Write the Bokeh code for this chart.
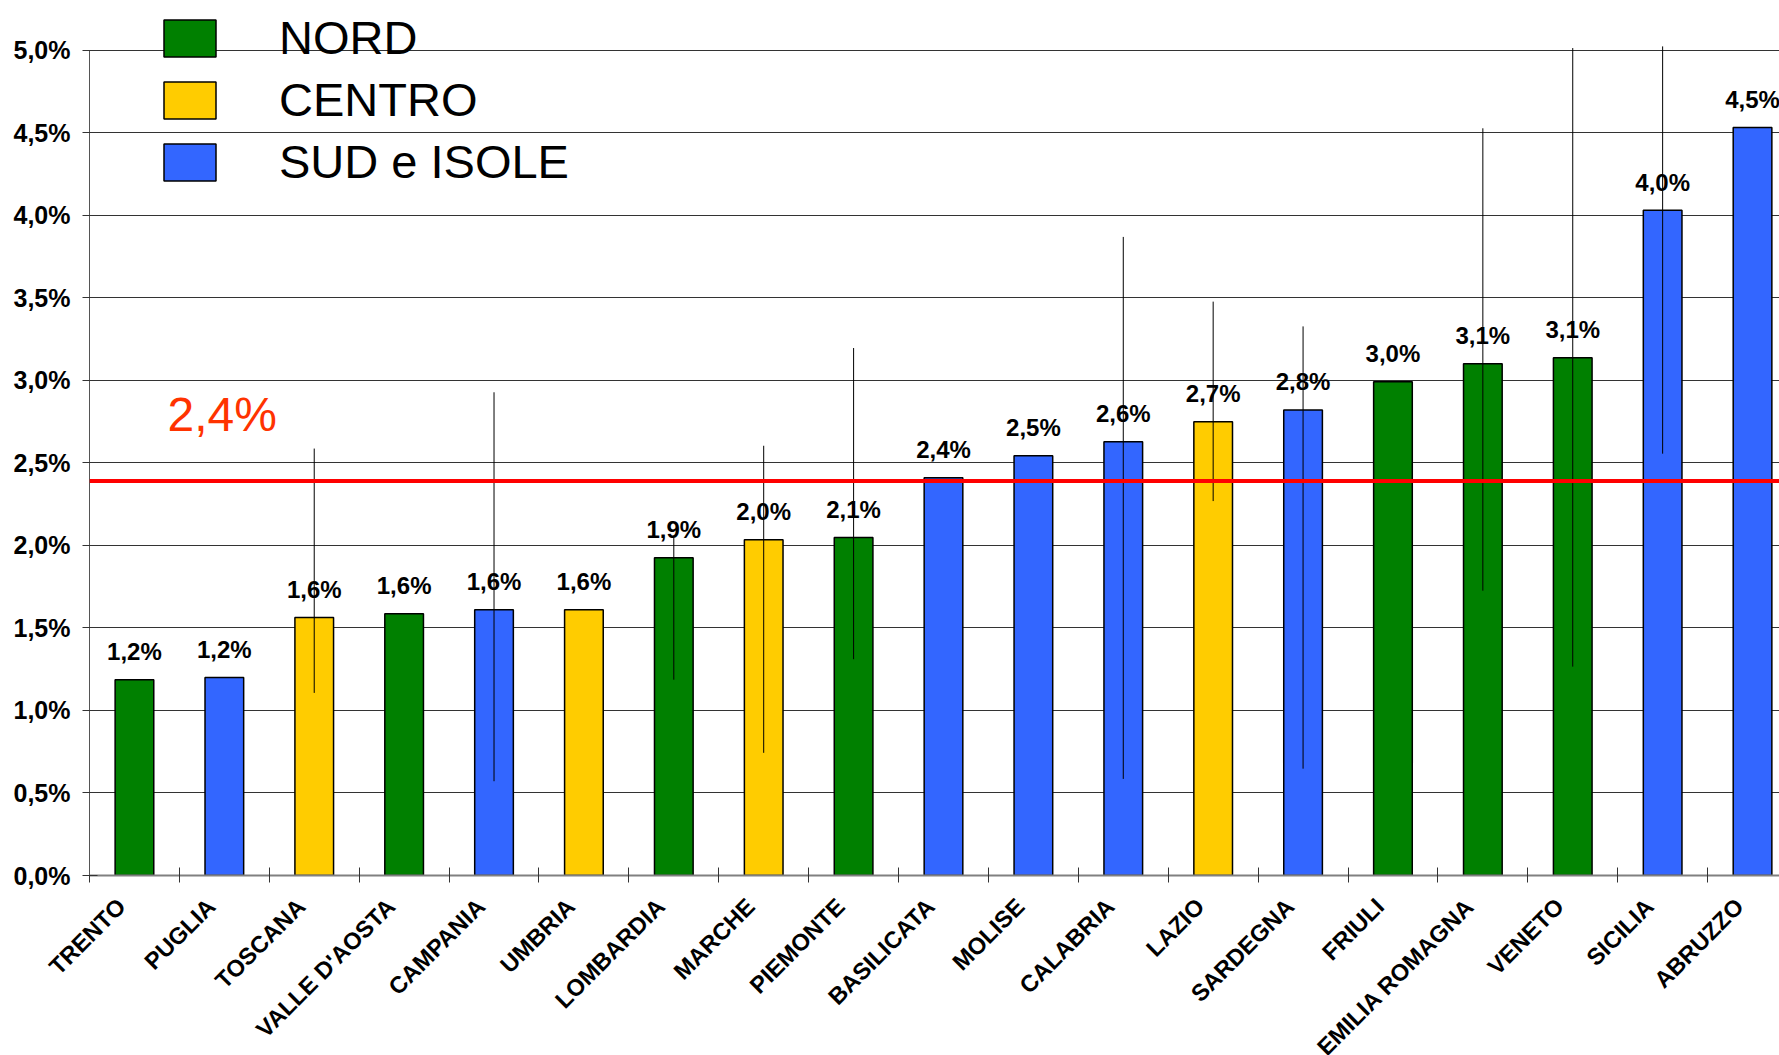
import math
from bokeh.plotting import figure
from bokeh.layouts import column
from bokeh.models import (Range1d, FixedTicker, Span, Label, Legend,
                          LegendItem, ColumnDataSource)
from bokeh.core.properties import value
from bokeh.embed import file_html
from bokeh.resources import INLINE

NaN = float("nan")

# ---------------- data ----------------
regions = ["TRENTO", "PUGLIA", "TOSCANA", "VALLE D'AOSTA", "CAMPANIA", "UMBRIA",
           "LOMBARDIA", "MARCHE", "PIEMONTE", "BASILICATA", "MOLISE", "CALABRIA",
           "LAZIO", "SARDEGNA", "FRIULI", "EMILIA ROMAGNA", "VENETO", "SICILIA",
           "ABRUZZO"]
areas = ["NORD", "SUD e ISOLE", "CENTRO", "NORD", "SUD e ISOLE", "CENTRO",
         "NORD", "CENTRO", "NORD", "SUD e ISOLE", "SUD e ISOLE", "SUD e ISOLE",
         "CENTRO", "SUD e ISOLE", "NORD", "NORD", "NORD", "SUD e ISOLE",
         "SUD e ISOLE"]
values = [1.186, 1.20, 1.562, 1.586, 1.609, 1.609, 1.925, 2.034, 2.047, 2.409,
          2.542, 2.628, 2.748, 2.82, 2.99, 3.10, 3.136, 4.03, 4.53]
value_labels = ["1,2%", "1,2%", "1,6%", "1,6%", "1,6%", "1,6%", "1,9%", "2,0%",
                "2,1%", "2,4%", "2,5%", "2,6%", "2,7%", "2,8%", "3,0%", "3,1%",
                "3,1%", "4,0%", "4,5%"]
err_high = [NaN, NaN, 2.586, NaN, 2.927, NaN, 2.05, 2.603, 3.195, NaN, NaN,
            3.868, 3.476, 3.326, NaN, 4.526, 5.012, 5.022, NaN]
err_low = [NaN, NaN, 1.106, NaN, 0.571, NaN, 1.186, 0.743, 1.31, NaN, NaN,
           0.585, 2.268, 0.647, NaN, 1.725, 1.265, 2.555, NaN]
average = 2.39
average_label = "2,4%"
y_ticks = [0.0, 0.5, 1.0, 1.5, 2.0, 2.5, 3.0, 3.5, 4.0, 4.5, 5.0]
y_tick_labels = ["0,0%", "0,5%", "1,0%", "1,5%", "2,0%", "2,5%", "3,0%", "3,5%",
                 "4,0%", "4,5%", "5,0%"]
area_names = ["NORD", "CENTRO", "SUD e ISOLE"]
area_colors = ["#008000", "#FFCC00", "#3366FF"]

# ---------------- layout ----------------
FONT = "Liberation Sans"
W = 1779
FRAME_LEFT = 89
MAIN_H = 890
LABELS_H = 165
X_START, X_END = -0.5, 18.3
unit_px = (W - FRAME_LEFT) / (X_END - X_START)

idx = list(range(len(regions)))
color_of = dict(zip(area_names, area_colors))
src = ColumnDataSource(dict(
    x=idx, top=values, lab=value_labels, area=areas, name=regions,
    color=[color_of[a] for a in areas],
    hi=err_high, lo=err_low,
))

p = figure(width=W, height=MAIN_H, output_backend="svg", toolbar_location=None,
           x_range=Range1d(X_START, X_END), y_range=Range1d(0, 5.30),
           min_border_left=FRAME_LEFT, min_border_right=0, min_border_top=0,
           min_border_bottom=MAIN_H - 875)
p.frame_align = False
p.outline_line_color = None
p.background_fill_color = "white"
p.border_fill_color = "white"

bars = p.vbar(x="x", top="top", width=0.43, bottom=0, source=src,
              fill_color="color", line_color="black", line_width=1.5)
p.segment(x0="x", y0="lo", x1="x", y1="hi", source=src,
          line_color="black", line_width=1)
p.text(x="x", y="top", text="lab", source=src, text_align="center",
       text_baseline="alphabetic", y_offset=-28, text_font_size="24px",
       text_font_style="bold", text_color="black", text_font=value(FONT))

p.add_layout(Span(location=average, dimension="width", line_color="#FF0000",
                  line_width=4))
p.add_layout(Label(x=0.368, y=average, y_offset=66, text=average_label,
                   text_color="#FF3300", text_font_size="48px", text_font=FONT,
                   text_baseline="alphabetic"))

# y axis
ya = p.yaxis[0]
ya.ticker = FixedTicker(ticks=y_ticks)
ya.major_label_overrides = {t: l for t, l in zip(y_ticks, y_tick_labels)}
ya.major_label_text_font = FONT
ya.major_label_text_font_style = "bold"
ya.major_label_text_font_size = "25px"
ya.major_label_text_color = "black"
ya.major_label_standoff = 12
ya.major_tick_in = 8
ya.major_tick_out = 7
ya.major_tick_line_color = "#333333"
ya.minor_tick_line_color = None
ya.axis_line_color = "#555555"
ya.bounds = (0, 5)

# x axis: only the tick marks at the category boundaries
xa = p.xaxis[0]
xa.ticker = FixedTicker(ticks=[], minor_ticks=[i - 0.5 for i in range(len(regions) + 1)])
xa.major_label_standoff = 0
xa.major_tick_in = 0
xa.major_tick_out = 0
xa.minor_tick_in = 8
xa.minor_tick_out = 7
xa.minor_tick_line_color = "#333333"
xa.axis_line_color = "#808080"
xa.axis_line_width = 2

p.xgrid.grid_line_color = None
p.ygrid.grid_line_color = "#333333"
p.ygrid.grid_line_width = 1

first = [areas.index(a) for a in area_names]
legend = Legend(items=[LegendItem(label=n, renderers=[bars], index=i)
                       for n, i in zip(area_names, first)],
                location=(68, 686), orientation="vertical",
                glyph_width=65, glyph_height=46, spacing=7,
                label_standoff=57, padding=0, margin=0, border_line_color=None,
                background_fill_alpha=0,
                label_text_font=FONT, label_text_font_size="47px",
                label_text_color="black")
p.add_layout(legend)

# category names, rotated, in a strip under the chart on the same x scale
q = figure(width=W, height=LABELS_H, output_backend="svg", toolbar_location=None,
           x_range=Range1d(X_START - FRAME_LEFT / unit_px, X_END),
           y_range=Range1d(0, 1), x_axis_location=None, y_axis_location=None,
           min_border_left=0, min_border_right=0, min_border_top=0,
           min_border_bottom=0)
q.frame_align = False
q.outline_line_color = None
q.grid.visible = False
q.background_fill_color = "white"
q.border_fill_color = "white"
q.text(x="x", y=1, text="name", source=src, angle=math.pi / 4,
       text_align="right", text_baseline="middle", x_offset=-13, y_offset=12,
       text_font=value(FONT), text_font_style="bold", text_font_size="23.5px",
       text_color="black")

layout = column(p, q, spacing=0)
open("out.html", "w").write(file_html(layout, INLINE))
